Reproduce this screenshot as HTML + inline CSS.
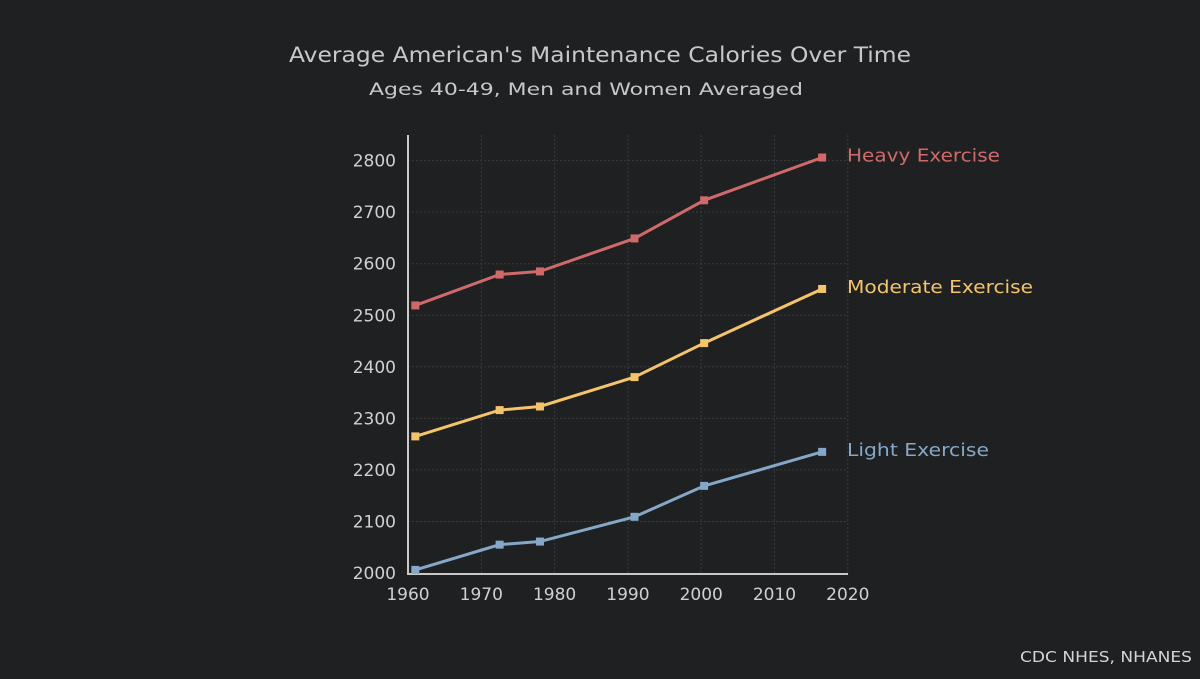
<!DOCTYPE html>
<html><head><meta charset="utf-8"><style>
body{margin:0;background:#1f2022;width:1200px;height:675px;overflow:hidden;font-family:"DejaVu Sans","Liberation Sans",sans-serif}
</style></head><body>
<svg id="c" width="1200" height="675">
<rect width="1200" height="675" fill="#1f2022"/>
<text x="600" y="62" text-anchor="middle" fill="#c8c8c8" font-size="21" textLength="622" lengthAdjust="spacingAndGlyphs">Average American's Maintenance Calories Over Time</text>
<text x="586" y="95" text-anchor="middle" fill="#c8c8c8" font-size="17" textLength="434" lengthAdjust="spacingAndGlyphs">Ages 40-49, Men and Women Averaged</text>
<text x="1192" y="662" text-anchor="end" fill="#d4d4d4" font-size="15" textLength="172" lengthAdjust="spacingAndGlyphs">CDC NHES, NHANES</text>
<g id="g"></g>
</svg>
<script>
const years=[1961,1972.5,1978,1990.9,2000.4,2016.5];
const heavy=[2519,2579,2585,2649,2723,2806];
const moderate=[2265,2316,2323,2380,2446,2551];
const light=[2006,2055,2061,2109,2169,2235];
const xTicks=[1960,1970,1980,1990,2000,2010,2020];
const yTicks=[2000,2100,2200,2300,2400,2500,2600,2700,2800];
const seriesNames=["Heavy Exercise","Moderate Exercise","Light Exercise"];
const labelLen=[153,186,142];
const X=v=>408+(v-1960)*7.33;
const Y=v=>573-(v-2000)*0.5155;
const NS="http://www.w3.org/2000/svg";
const g=document.getElementById('g');
function mk(t,a){const e=document.createElementNS(NS,t);for(const k in a)e.setAttribute(k,a[k]);g.appendChild(e);return e;}
xTicks.forEach(t=>{
 if(t>1960){const l=mk('line',{x1:X(t),x2:X(t),y1:135,y2:573,stroke:'#3a3b3e','stroke-dasharray':'2,2'});
 
 }
 const tx=mk('text',{x:X(t),y:600,'text-anchor':'middle',fill:'#d0d0d0','font-size':'17'});tx.textContent=t;
 
 
});
yTicks.forEach(t=>{
 if(t>2000){const l=mk('line',{x1:408,x2:848,y1:Y(t),y2:Y(t),stroke:'#3a3b3e','stroke-dasharray':'2,2'});
 
 }
 const tx=mk('text',{x:396,y:Y(t)+6,'text-anchor':'end',fill:'#d0d0d0','font-size':'17'});tx.textContent=t;
 
 
});
const ax=mk('path',{d:'M408 135V574H848',fill:'none',stroke:'#c8c8c8','stroke-width':2});


const cols=['#d06a6a','#f3c46c','#86a8c8'];
[heavy,moderate,light].forEach((s,i)=>{
 const p=mk('polyline',{points:s.map((v,j)=>X(years[j])+','+Y(v)).join(' '),fill:'none',stroke:cols[i],'stroke-width':3});
 
 
 s.forEach((v,j)=>{const r=mk('rect',{x:X(years[j])-4,y:Y(v)-4,width:8,height:8,fill:cols[i]});
  
  });
 const t=mk('text',{x:847,y:Y(s[s.length-1])+4,fill:cols[i],'font-size':'18',textLength:labelLen[i],lengthAdjust:'spacingAndGlyphs'});t.textContent=seriesNames[i];
 
 
});
</script>
</body></html>
